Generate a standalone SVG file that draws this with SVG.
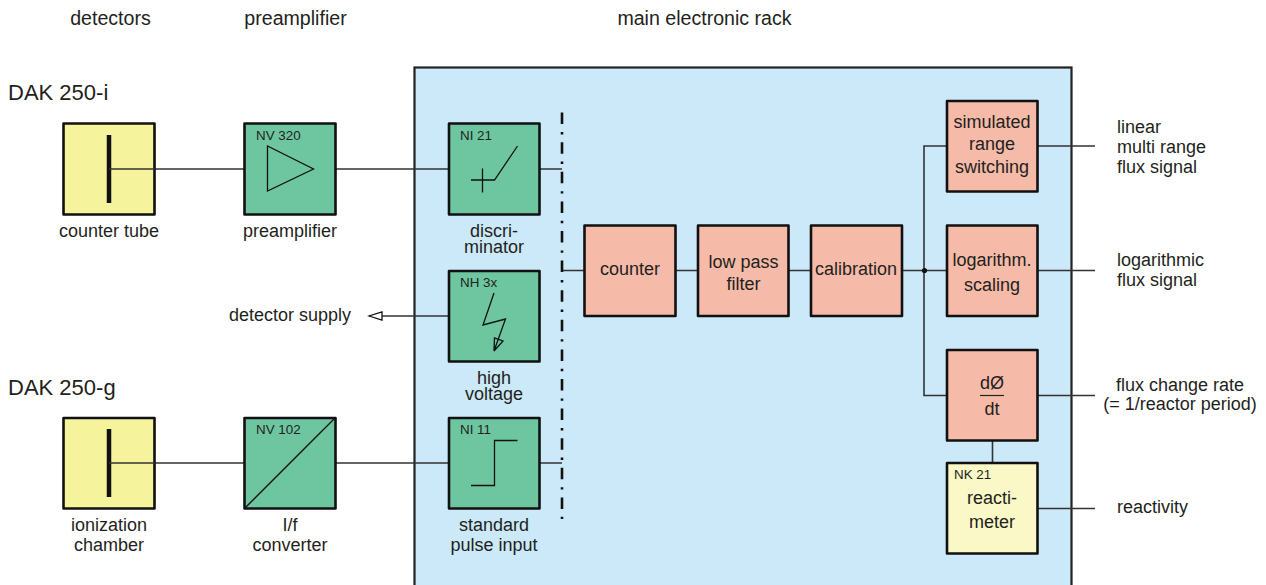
<svg xmlns="http://www.w3.org/2000/svg" width="1266" height="585" viewBox="0 0 1266 585">
<style>
text{font-family:"Liberation Sans",Arial,sans-serif;font-size:18px;fill:#231f20;text-anchor:middle}
.h{font-size:19.6px}
.t{font-size:22px;text-anchor:start}
.s{font-size:13.4px;text-anchor:start}
.e{text-anchor:start}
.n{stroke:#111;stroke-width:2.6;stroke-linejoin:round}
.y{fill:#f5f39c}.g{fill:#6ec6a1}.p{fill:#f6baa8}.l{fill:#f9f8c6}
.c{fill:none;stroke:#333;stroke-width:1.6}
.i{fill:none;stroke:#111;stroke-width:1.3}
</style>
<defs>
<marker id="a" markerWidth="16" markerHeight="12" refX="14" refY="5" orient="auto" markerUnits="userSpaceOnUse"><path d="M14 5L1 1V9Z" fill="#fff" stroke="#111" stroke-width="1.3"/></marker>
</defs>
<rect id="rack" x="414.500" y="67.500" width="657" height="540" fill="#cbe9f8" stroke="#222" stroke-width="2.200"/>
<text class="h" x="110.500" y="25">detectors</text>
<text class="h" x="295.500" y="25">preamplifier</text>
<text class="h" x="704.500" y="25">main electronic rack</text>
<text class="t" x="8" y="99.500">DAK 250-i</text>
<text class="t" x="8" y="395">DAK 250-g</text>

<g id="connectors">
<path class="c" d="M109 169H244M336 169H449M540 169H562M109 463H244M336 463H449M540 463H562"/>
<path class="c" d="M449 316H369" marker-end="url(#a)"/>
<path class="c" d="M562 270.500H584M676 270.500H698M789 270.500H811M902 270.500H947M924 270.500V146H947M924 270.500V395.500H947M1038 146H1095M1038 270.500H1095M1038 395.500H1095M1038 508.500H1095M992.500 441V463"/>
<circle cx="924.500" cy="270.500" r="2.600" fill="#111"/>
<path d="M562 112.600V519" fill="none" stroke="#111" stroke-width="2.600" stroke-dasharray="11.500 7.900 2.400 7.800"/>
</g>

<g id="counter-tube"><rect class="n y" x="63.500" y="123.500" width="91" height="91"/><path d="M109 135V203" stroke="#111" stroke-width="4.500"/><path class="c" d="M109 169H155"/><text x="109" y="237">counter tube</text></g>
<g id="preamp"><rect class="n g" x="244.500" y="123.500" width="91" height="91"/><path class="i" d="M267.500 146V191L313.500 169Z"/><text class="s" x="256" y="140">NV 320</text><text x="290" y="237">preamplifier</text></g>
<g id="ni21"><rect class="n g" x="449" y="123.500" width="90.500" height="91"/><path class="i" d="M471 180H494.500L517.500 146M482.500 168.500V192.500"/><text class="s" x="460" y="140">NI 21</text><text y="237"><tspan x="494">discri-</tspan><tspan x="494" dy="16">minator</tspan></text></g>
<g id="nh3x"><rect class="n g" x="449" y="271" width="90.500" height="90.500"/><path class="i" d="M494 293L483 325L505.500 319L494 351L503 341L494.500 338L494 351"/><text class="s" x="460" y="287">NH 3x</text><text y="384"><tspan x="494">high</tspan><tspan x="494" dy="16">voltage</tspan></text></g>
<g id="ni11"><rect class="n g" x="449" y="418" width="90.500" height="90.500"/><path class="i" d="M471 485.500H494.500V440.500H517.500"/><text class="s" x="460" y="434">NI 11</text><text x="494" y="531">standard</text><text x="494" y="551">pulse input</text></g>
<g id="ionization"><rect class="n y" x="63.500" y="418" width="91" height="90.500"/><path d="M109 429V497" stroke="#111" stroke-width="4.500"/><path class="c" d="M109 463H155"/><text x="109" y="531">ionization</text><text x="109" y="551">chamber</text></g>
<g id="nv102"><rect class="n g" x="244.500" y="418" width="91" height="90.500"/><path class="i" d="M245 508L335 418"/><text class="s" x="256" y="434">NV 102</text><text x="290" y="531">I/f</text><text x="290" y="551">converter</text></g>
<g id="counter"><rect class="n p" x="584.500" y="225.500" width="91" height="90.500"/><text x="630" y="275">counter</text></g>
<g id="lowpass"><rect class="n p" x="698" y="225.500" width="90.500" height="90.500"/><text x="743.500" y="268">low pass</text><text x="743.500" y="290">filter</text></g>
<g id="calibration"><rect class="n p" x="811" y="225.500" width="91" height="90.500"/><text x="856" y="275">calibration</text></g>
<g id="simulated"><rect class="n p" x="947" y="101" width="90.500" height="90.500"/><text x="992" y="128">simulated</text><text x="992" y="150">range</text><text x="992" y="173">switching</text></g>
<g id="log"><rect class="n p" x="947" y="225.500" width="90.500" height="90.500"/><text x="992" y="266">logarithm.</text><text x="992" y="291">scaling</text></g>
<g id="rate"><rect class="n p" x="947" y="350" width="90.500" height="90.500"/><path d="M980 395.500H1004" stroke="#222" stroke-width="1.200"/><text x="992" y="389">dØ</text><text x="992" y="415">dt</text></g>
<g id="nk21"><rect class="n l" x="947" y="463" width="90.500" height="90.500"/><text class="s" x="954" y="479">NK 21</text><text x="992" y="504">reacti-</text><text x="992" y="528">meter</text></g>

<text class="e" x="1117" y="133">linear</text>
<text class="e" x="1117" y="153">multi range</text>
<text class="e" x="1117" y="173">flux signal</text>
<text class="e" x="1117" y="266">logarithmic</text>
<text class="e" x="1117" y="286">flux signal</text>
<text x="1180" y="391">flux change rate</text>
<text x="1180" y="410">(= 1/reactor period)</text>
<text class="e" x="1117" y="513">reactivity</text>
<text x="290" y="321">detector supply</text>
</svg>
